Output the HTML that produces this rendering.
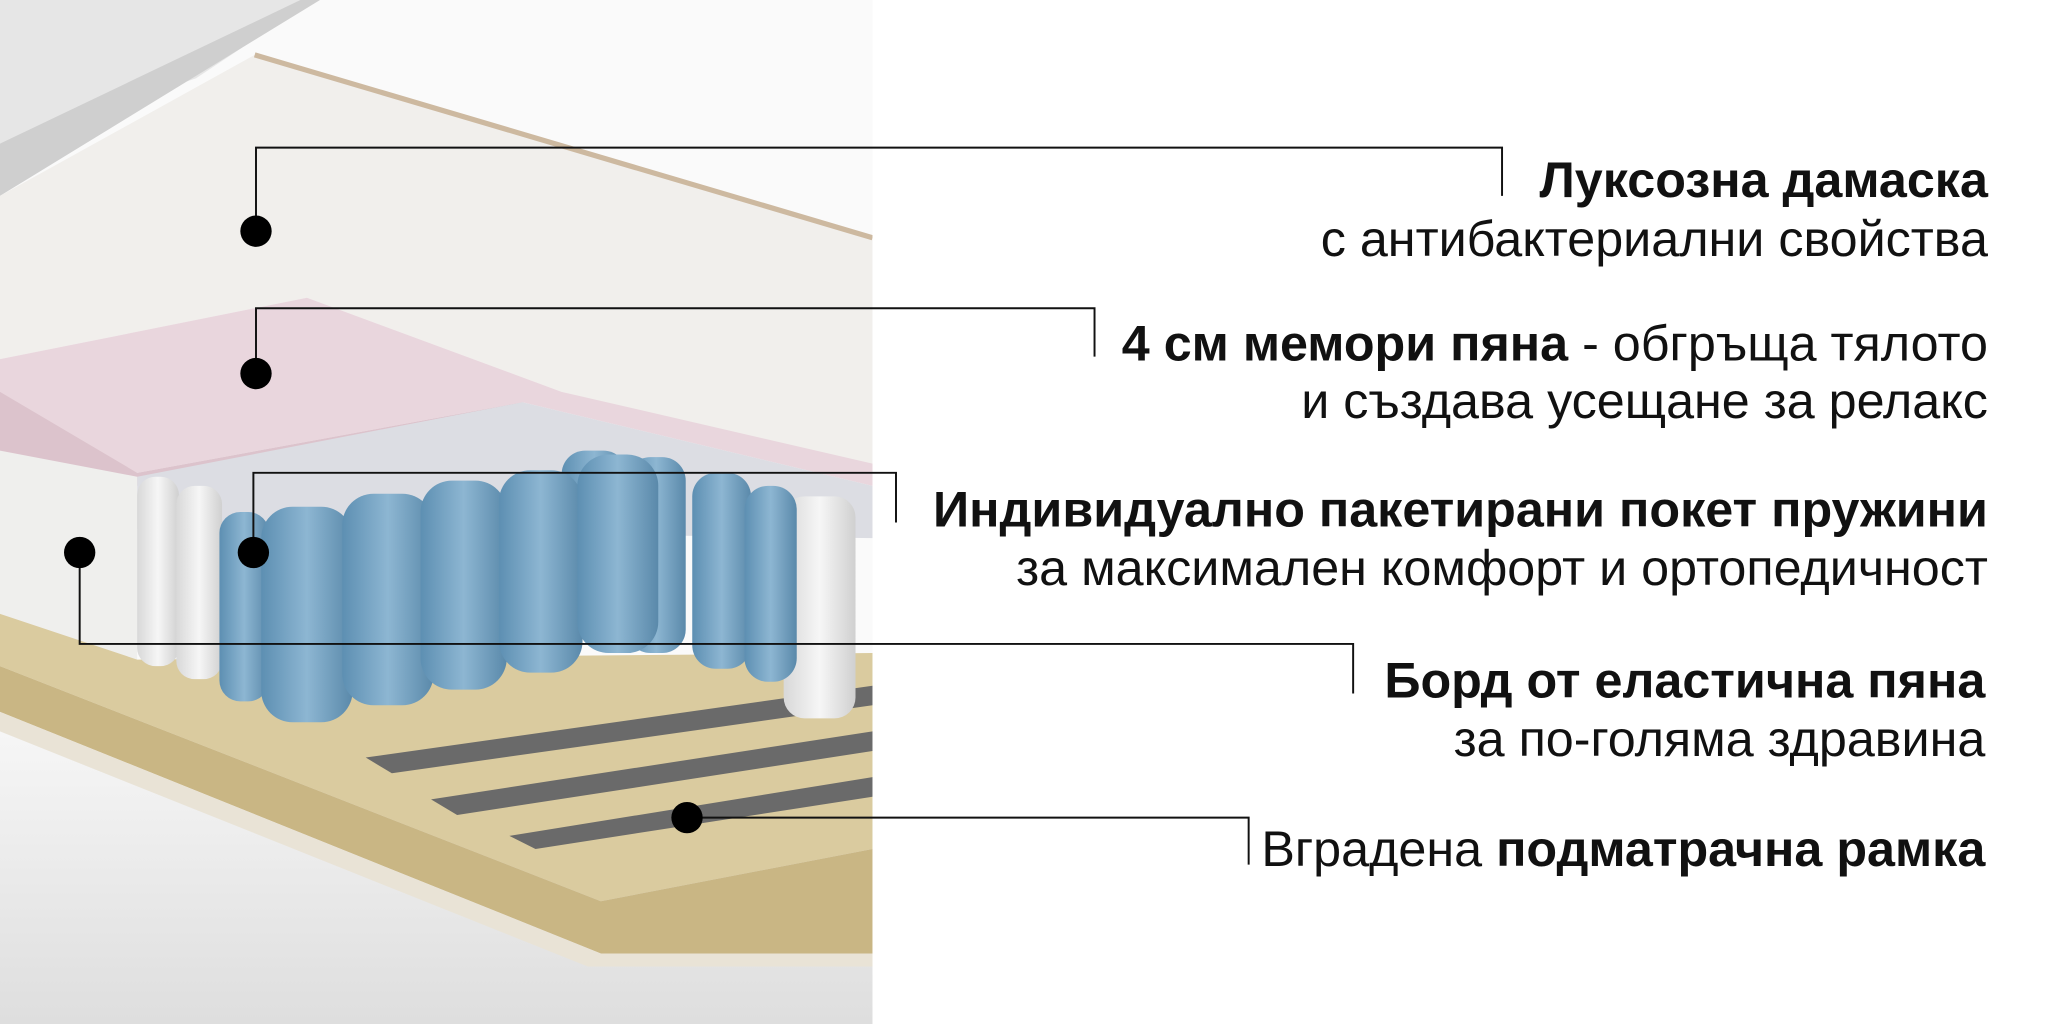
<!DOCTYPE html>
<html><head><meta charset="utf-8"><style>
html,body{margin:0;padding:0;background:#fff;}
svg{display:block}
text{font-family:"Liberation Sans",sans-serif;fill:#111;}
</style></head><body>
<svg width="2048" height="1024" viewBox="0 0 1568 784" xmlns="http://www.w3.org/2000/svg">
<defs>
<linearGradient id="floor" x1="0" y1="0" x2="0" y2="1">
<stop offset="0" stop-color="#f8f8f8"/><stop offset="1" stop-color="#dedede"/></linearGradient>
<linearGradient id="spring" x1="0" y1="0" x2="1" y2="0">
<stop offset="0" stop-color="#5d8fb2"/><stop offset="0.5" stop-color="#8db6d2"/><stop offset="1" stop-color="#5a89aa"/></linearGradient>
<linearGradient id="wspring" x1="0" y1="0" x2="1" y2="0">
<stop offset="0" stop-color="#d8d8d8"/><stop offset="0.5" stop-color="#f6f6f6"/><stop offset="1" stop-color="#d0d0d0"/></linearGradient>
</defs>
<rect x="0" y="0" width="668" height="784" fill="#fafafa"/>
<rect x="0" y="540" width="668" height="244" fill="url(#floor)"/>
<polygon points="0,0 240,0 150,60 0,110" fill="#e6e6e6"/>
<polygon points="0,110 230,0 245,0 0,150" fill="#cfcfcf"/>
<polygon points="0,150 195,42 668,182 668,360 430,300 235,228 0,275" fill="#f1efec"/>
<polyline points="195,42 668,182" stroke="#cdb9a0" stroke-width="4" fill="none"/>
<polygon points="0,275 235,228 430,300 668,355 668,372 400,308 105,362 0,345" fill="#e9d6dd"/>
<polygon points="0,300 105,362 400,308 420,318 105,372 0,350" fill="#dcc3cc"/>
<polygon points="105,365 400,308 668,372 668,412 105,405" fill="#dcdde3"/>
<polygon points="0,345 105,365 105,505 0,480" fill="#efefed"/>
<polygon points="0,470 105,505 668,500 668,650 460,690 0,510" fill="#dacb9f"/>
<polygon points="0,510 460,690 668,650 668,730 460,730 0,545" fill="#c9b684"/>
<polygon points="0,545 460,730 668,730 668,740 450,740 0,560" fill="#e9e3d6"/>
<polygon points="280,580 668,525 668,540 300,592" fill="#6a6a6a"/>
<polygon points="330,612 668,560 668,575 350,624" fill="#6a6a6a"/>
<polygon points="390,640 668,595 668,610 410,650" fill="#6a6a6a"/>
<rect x="105" y="365" width="32" height="145" rx="14" fill="url(#wspring)"/>
<rect x="135" y="372" width="35" height="148" rx="14" fill="url(#wspring)"/>
<rect x="600" y="380" width="55" height="170" rx="16" fill="url(#wspring)"/>
<rect x="430" y="345" width="50" height="140" rx="18" fill="url(#spring)"/>
<rect x="480" y="350" width="45" height="150" rx="18" fill="url(#spring)"/>
<rect x="530" y="362" width="45" height="150" rx="18" fill="url(#spring)"/>
<rect x="570" y="372" width="40" height="150" rx="18" fill="url(#spring)"/>
<rect x="168" y="392" width="38" height="145" rx="16" fill="url(#spring)"/>
<rect x="200" y="388" width="70" height="165" rx="24" fill="url(#spring)"/>
<rect x="262" y="378" width="70" height="162" rx="24" fill="url(#spring)"/>
<rect x="322" y="368" width="66" height="160" rx="24" fill="url(#spring)"/>
<rect x="382" y="360" width="64" height="155" rx="24" fill="url(#spring)"/>
<rect x="442" y="348" width="62" height="152" rx="24" fill="url(#spring)"/>
<rect x="668" y="0" width="900" height="784" fill="#fff"/>
<g stroke="#111" stroke-width="1.5" fill="none">
<polyline points="196,177 196,113 1150,113 1150,150"/>
<polyline points="196,286 196,236 838,236 838,273"/>
<polyline points="194,423 194,362 686,362 686,400"/>
<polyline points="61,423 61,493 1036,493 1036,531"/>
<polyline points="526,626 956,626 956,662"/>
</g>
<g fill="#000">
<circle cx="196" cy="177" r="12"/><circle cx="196" cy="286" r="12"/>
<circle cx="194" cy="423" r="12"/><circle cx="61" cy="423" r="12"/>
<circle cx="526" cy="626" r="12"/>
</g>
<g font-size="38.5" text-anchor="end">
<text x="1522" y="151" font-weight="bold">Луксозна дамаска</text>
<text x="1522" y="196">с антибактериални свойства</text>
<text x="1522" y="276"><tspan font-weight="bold">4 см мемори пяна</tspan> - обгръща тялото</text>
<text x="1522" y="320">и създава усещане за релакс</text>
<text x="1522" y="403" font-weight="bold">Индивидуално пакетирани покет пружини</text>
<text x="1522" y="448">за максимален комфорт и ортопедичност</text>
<text x="1520" y="534" font-weight="bold">Борд от еластична пяна</text>
<text x="1520" y="579">за по-голяма здравина</text>
<text x="1520" y="663">Вградена <tspan font-weight="bold">подматрачна рамка</tspan></text>
</g>
</svg>
</body></html>
